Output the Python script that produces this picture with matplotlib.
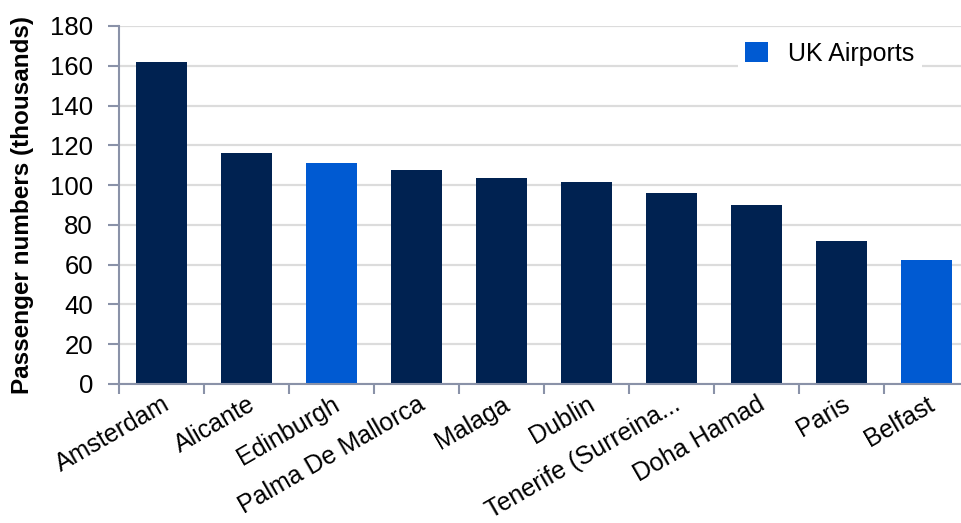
import matplotlib

matplotlib.use("Agg")
import matplotlib.pyplot as plt
from matplotlib.patches import Patch

plt.rcParams["font.family"] = ["Liberation Sans", "DejaVu Sans"]

airports = ["Amsterdam", "Alicante", "Edinburgh", "Palma De Mallorca", "Malaga",
            "Dublin", "Tenerife (Surreina...", "Doha Hamad", "Paris", "Belfast"]
passengers = [162, 116, 111, 107.5, 103.5, 101.5, 96, 90, 72, 62.5]
is_uk = [False, False, True, False, False, False, False, False, False, True]

NAVY = "#002251"
BLUE = "#005AD2"
SPINE = "#8a92a8"

fig = plt.figure(figsize=(9.61, 5.23), dpi=100)
ax = fig.add_axes([0.1243, 0.2658, 0.8757, 0.6845])

x = list(range(len(airports)))
colors = [BLUE if uk else NAVY for uk in is_uk]
ax.bar(x, passengers, width=0.6, color=colors, zorder=3)

ax.set_ylim(0, 180)
ax.set_yticks(range(0, 181, 20))
ax.set_xlim(-0.5, -0.5 + (961 - 119.5) / 85.0)

# tick marks between categories, labels at the centres
ax.set_xticks([i - 0.5 for i in x])
ax.set_xticklabels([])
ax.set_xticks(x, minor=True)
ax.set_xticklabels(airports, minor=True, rotation=30, ha="right",
                   rotation_mode="anchor", fontsize=18)
ax.tick_params(axis="x", which="minor", length=0, pad=6)
ax.tick_params(axis="x", which="major", length=7, width=1.5, color=SPINE)
ax.tick_params(axis="y", length=8, width=1.5, color=SPINE, labelsize=18.5, pad=11)

ax.grid(axis="y", color="#dcdcdc", linewidth=1.6, zorder=0)
for side in ["top", "right"]:
    ax.spines[side].set_visible(False)
for side in ["left", "bottom"]:
    ax.spines[side].set_color(SPINE)
    ax.spines[side].set_linewidth(1.5)
    ax.spines[side].set_zorder(4)

ax.set_ylabel("Passenger numbers (thousands)", fontsize=17.5, fontweight="bold")
ax.yaxis.set_label_coords(-0.101, 0.5)

leg = ax.legend(handles=[Patch(facecolor=BLUE, label="UK Airports")],
                loc="upper left", bbox_to_anchor=(0.72, 1.012), fontsize=18,
                frameon=True, fancybox=False, handlelength=0.9, handleheight=0.9,
                handletextpad=0.8, borderpad=0.3)
leg.get_frame().set_edgecolor("none")
leg.get_frame().set_facecolor("white")
leg.get_frame().set_alpha(1)
leg.set_zorder(5)

fig.savefig("out.png", dpi=100)
